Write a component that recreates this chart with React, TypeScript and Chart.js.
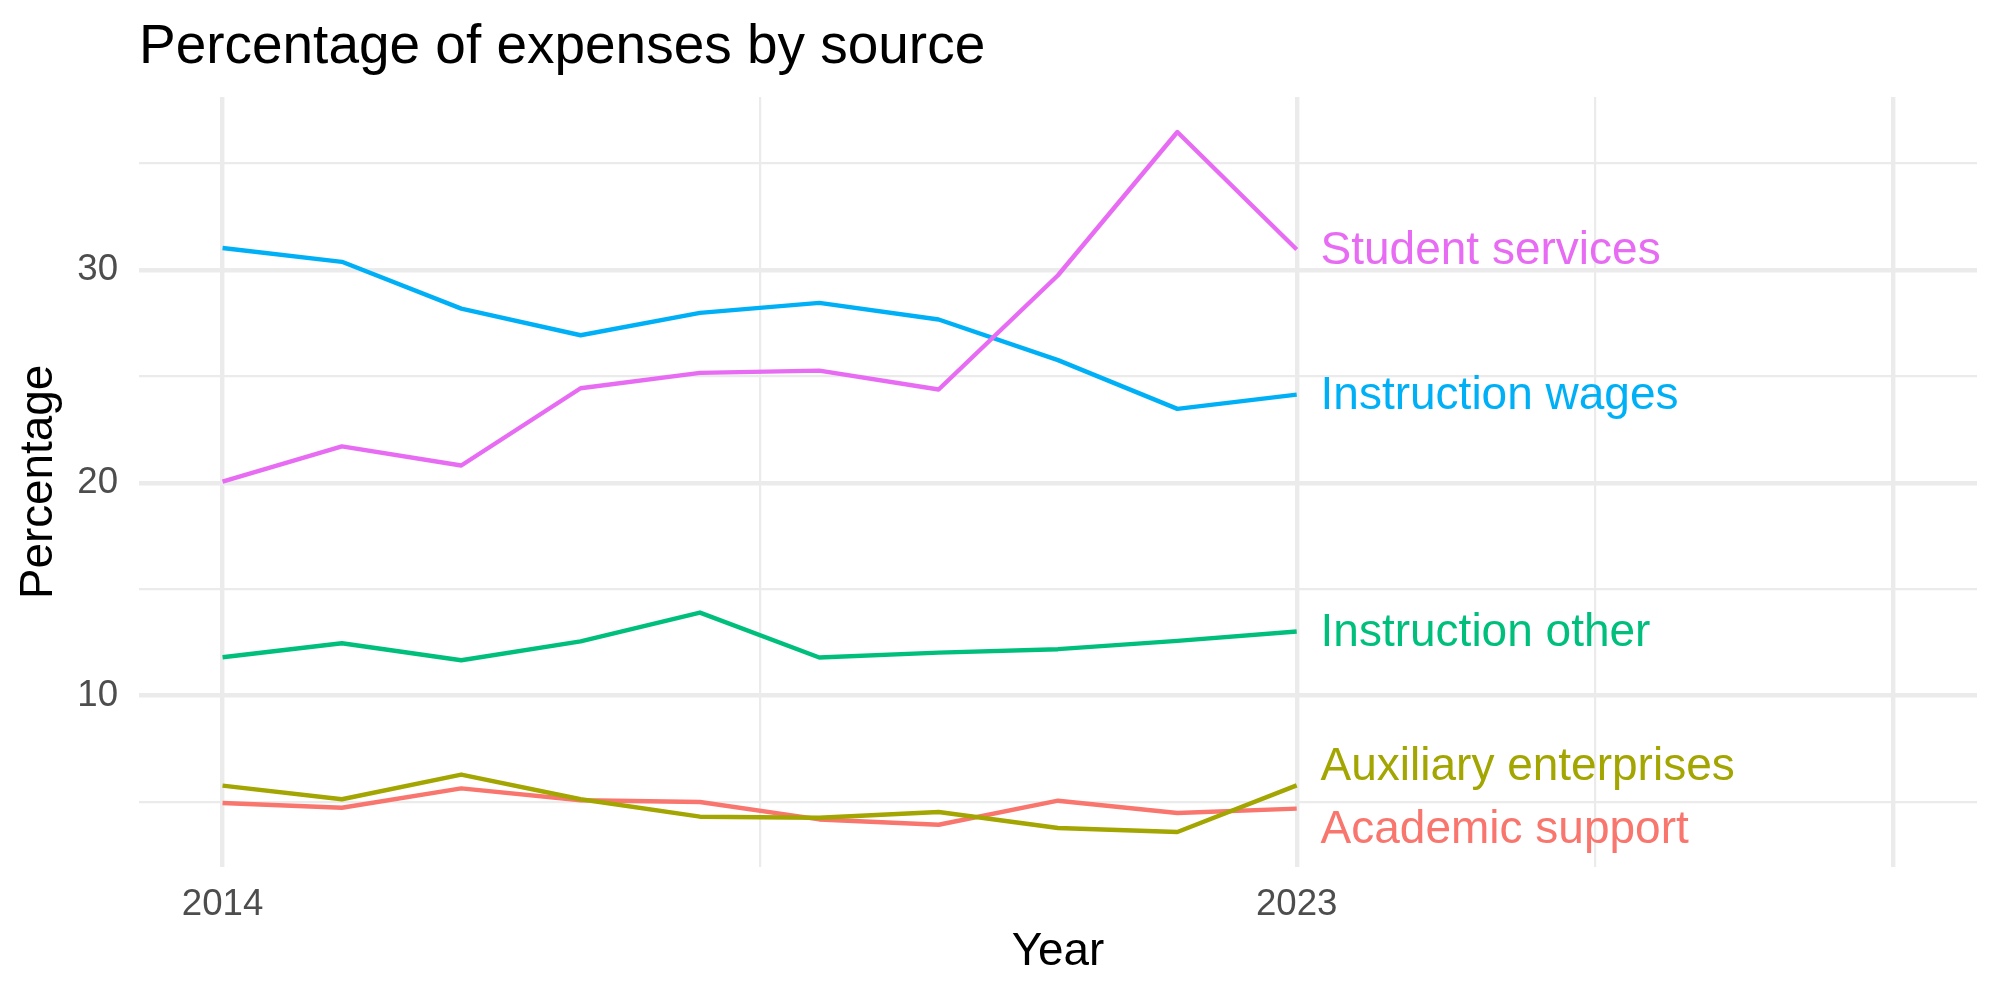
import React, { useEffect, useRef } from "react";
import { Chart, registerables } from "chart.js";

Chart.register(...registerables);

// ---- data -----------------------------------------------------------------
const years = [2014, 2015, 2016, 2017, 2018, 2019, 2020, 2021, 2022, 2023];

const seriesNames = [
  "Academic support",
  "Auxiliary enterprises",
  "Instruction other",
  "Instruction wages",
  "Student services",
];

const academicSupport = [4.95, 4.73, 5.64, 5.08, 5.0, 4.18, 3.93, 5.06, 4.48, 4.69];
const auxiliaryEnterprises = [5.77, 5.13, 6.29, 5.13, 4.31, 4.26, 4.53, 3.78, 3.59, 5.78];
const instructionOther = [11.8, 12.46, 11.66, 12.55, 13.9, 11.79, 12.02, 12.18, 12.57, 13.01];
const instructionWages = [31.03, 30.38, 28.18, 26.93, 27.98, 28.45, 27.67, 25.76, 23.47, 24.14];
const studentServices = [20.05, 21.71, 20.81, 24.44, 25.16, 25.27, 24.38, 29.75, 36.48, 30.96];

const seriesValues = [
  academicSupport,
  auxiliaryEnterprises,
  instructionOther,
  instructionWages,
  studentServices,
];

// ggplot default hue palette for five groups
const seriesColors = ["#F8766D", "#A3A500", "#00BF7D", "#00B0F6", "#E76BF3"];

// axis breaks and labels
const xLimits = [2014, 2028];
const xMajorBreaks = [2014, 2023, 2028];
const xMinorBreaks = [2018.5, 2025.5];
const xTickLabels = ["2014", "2023", ""];
const yMajorBreaks = [10, 20, 30];
const yMinorBreaks = [5, 15, 25, 35];
const yTickLabels = ["10", "20", "30"];

const TITLE = "Percentage of expenses by source";
const X_TITLE = "Year";
const Y_TITLE = "Percentage";

// ---- styling --------------------------------------------------------------
const FONT = "'Liberation Sans', Arimo, Arial, Helvetica, sans-serif";
const BASE = 45.8; // 11pt at 300 dpi
const GRID = "#EBEBEB";
const MAJOR_W = 4.4;
const MINOR_W = 2.2;
const LINE_W = 4.4;
const LABEL_SIZE = 46;
const LABEL_NUDGE_X = 0.2;
const LABEL_MIN_GAP = 62.5;

// ggplot-like 5% expansion around the limits
function expand(lo: number, hi: number, mult = 0.05): [number, number] {
  const d = (hi - lo) * mult;
  return [lo - d, hi + d];
}

const allValues = seriesValues.flat();
const [xMin, xMax] = expand(xLimits[0], xLimits[1]);
const [yMin, yMax] = expand(Math.min(...allValues), Math.max(...allValues));

const isIn = (arr: number[], v: number) => arr.some((b) => Math.abs(b - v) < 1e-6);

// push overlapping labels apart vertically (in pixels)
function repel(ys: number[], gap: number): number[] {
  const order = ys.map((_, i) => i).sort((a, b) => ys[a] - ys[b]);
  const out = ys.slice();
  for (let iter = 0; iter < 200; iter++) {
    let moved = false;
    for (let k = 0; k < order.length - 1; k++) {
      const a = order[k];
      const b = order[k + 1];
      const d = out[b] - out[a];
      if (d < gap - 0.01) {
        const s = (gap - d) / 2;
        out[a] -= s;
        out[b] += s;
        moved = true;
      }
    }
    if (!moved) break;
  }
  return out;
}

const titlePlugin = {
  id: "plotTitle",
  afterDraw(chart: any) {
    const { ctx, chartArea } = chart;
    ctx.save();
    ctx.font = `${BASE * 1.2}px ${FONT}`;
    ctx.fillStyle = "#000000";
    ctx.textAlign = "left";
    ctx.textBaseline = "alphabetic";
    ctx.fillText(TITLE, chartArea.left, 63);
    ctx.restore();
  },
};

const endLabelPlugin = {
  id: "endLabels",
  afterDatasetsDraw(chart: any) {
    const { ctx } = chart;
    const xs = chart.scales.x;
    const ys = chart.scales.y;
    const last = years.length - 1;
    const rawY = seriesValues.map((vals) => ys.getPixelForValue(vals[last]));
    const placed = repel(rawY, LABEL_MIN_GAP);
    const x = xs.getPixelForValue(years[last] + LABEL_NUDGE_X);
    ctx.save();
    ctx.font = `${LABEL_SIZE}px ${FONT}`;
    ctx.textAlign = "left";
    ctx.textBaseline = "middle";
    seriesNames.forEach((name, i) => {
      ctx.fillStyle = seriesColors[i];
      ctx.fillText(name, x, placed[i] + 2);
    });
    ctx.restore();
  },
};

export default function App() {
  const canvasRef = useRef<HTMLCanvasElement | null>(null);

  useEffect(() => {
    if (!canvasRef.current) return;

    // later datasets in ggplot are drawn on top; Chart.js draws index 0 last
    const datasets = seriesNames
      .map((name, i) => ({
        label: name,
        data: years.map((yr, j) => ({ x: yr, y: seriesValues[i][j] })),
        borderColor: seriesColors[i],
        backgroundColor: seriesColors[i],
        borderWidth: LINE_W,
        borderJoinStyle: "round" as const,
        borderCapStyle: "butt" as const,
        pointRadius: 0,
        tension: 0,
        fill: false,
      }))
      .reverse();

    const chart = new Chart(canvasRef.current, {
      type: "line",
      data: { datasets },
      options: {
        animation: false,
        responsive: false,
        devicePixelRatio: 1,
        layout: { padding: { top: 97, right: 23, bottom: 0, left: 0 } },
        plugins: {
          legend: { display: false },
          tooltip: { enabled: false },
          title: { display: false },
        },
        scales: {
          x: {
            type: "linear",
            min: xMin,
            max: xMax,
            afterBuildTicks: (scale: any) => {
              scale.ticks = [...xMajorBreaks, ...xMinorBreaks]
                .sort((a, b) => a - b)
                .map((v) => ({ value: v }));
            },
            afterFit: (scale: any) => {
              scale.height = 133;
            },
            grid: {
              color: GRID,
              drawTicks: false,
              lineWidth: (c: any) =>
                c.tick && isIn(xMajorBreaks, c.tick.value) ? MAJOR_W : MINOR_W,
            },
            border: { display: false },
            ticks: {
              autoSkip: false,
              maxRotation: 0,
              padding: 15.5,
              color: "#4D4D4D",
              font: { family: FONT, size: BASE * 0.8 },
              callback: (v: any) => {
                const k = xMajorBreaks.findIndex((b) => Math.abs(b - Number(v)) < 1e-6);
                return k >= 0 ? xTickLabels[k] : "";
              },
            },
            title: {
              display: true,
              text: X_TITLE,
              color: "#000000",
              font: { family: FONT, size: BASE },
              padding: { top: 0, bottom: 20 },
            },
          },
          y: {
            type: "linear",
            min: yMin,
            max: yMax,
            afterBuildTicks: (scale: any) => {
              scale.ticks = [...yMajorBreaks, ...yMinorBreaks]
                .sort((a, b) => a - b)
                .map((v) => ({ value: v }));
            },
            afterFit: (scale: any) => {
              scale.width = 139;
            },
            grid: {
              color: GRID,
              drawTicks: false,
              lineWidth: (c: any) =>
                c.tick && isIn(yMajorBreaks, c.tick.value) ? MAJOR_W : MINOR_W,
            },
            border: { display: false },
            ticks: {
              autoSkip: false,
              padding: 21,
              color: "#4D4D4D",
              font: { family: FONT, size: BASE * 0.8 },
              callback: (v: any) => {
                const k = yMajorBreaks.findIndex((b) => Math.abs(b - Number(v)) < 1e-6);
                return k >= 0 ? yTickLabels[k] : "";
              },
            },
            title: {
              display: true,
              text: Y_TITLE,
              color: "#000000",
              font: { family: FONT, size: BASE },
              padding: { top: 11.5, bottom: 0 },
            },
          },
        },
      },
      plugins: [titlePlugin, endLabelPlugin],
    });

    return () => chart.destroy();
  }, []);

  return (
    <div
      style={{
        position: "fixed",
        left: 0,
        top: 0,
        width: 2000,
        height: 1000,
        background: "#ffffff",
      }}
    >
      <canvas
        ref={canvasRef}
        width={2000}
        height={1000}
        style={{ width: 2000, height: 1000, display: "block" }}
      />
    </div>
  );
}
